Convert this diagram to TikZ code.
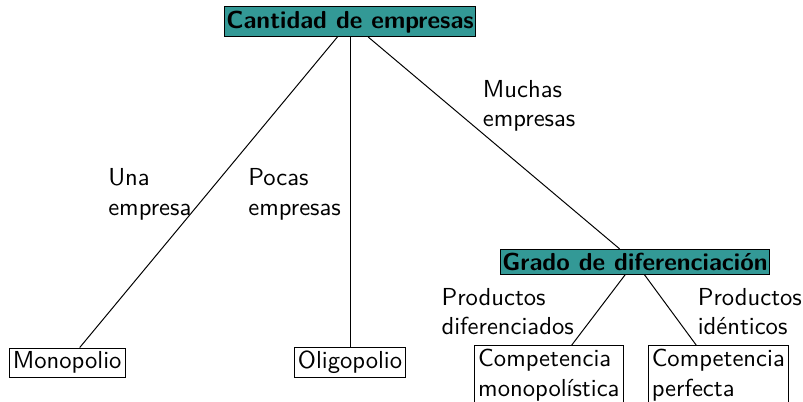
\documentclass[tikz,border=0pt]{standalone}
\usepackage{fontspec}
\usepackage{tikz}

\definecolor{tealbox}{RGB}{51,153,150}

\tikzset{
  header/.style={draw, fill=tealbox, inner xsep=0.7pt, inner ysep=1.5pt, font=\sffamily\bfseries},
  leaf/.style={draw, inner sep=1.5pt, font=\sffamily, align=left},
  branch/.style={anchor=north west, inner sep=0pt, font=\sffamily, align=left}
}

\begin{document}
\begin{tikzpicture}

  \useasboundingbox (0,0) rectangle (11.47,5.74);

  \node[header] (cantidad) at (5.00,5.43) {Cantidad de empresas};
  \node[header] (grado) at (9.07,2.00) {Grado de diferenciaci\'on};

  \node[leaf] (mono) at (0.96,0.56) {Monopolio};
  \node[leaf] (oligo) at (5.00,0.56) {Oligopolio};
  \node[leaf, anchor=north] (compmono) at (7.84,0.81) {Competencia\\monopol\'istica};
  \node[leaf, anchor=north] (compperf) at (10.26,0.81) {Competencia\\perfecta};

  \draw (cantidad) -- (mono);
  \draw (cantidad) -- (oligo);
  \draw (cantidad) -- (grado);
  \draw (grado) -- (compmono);
  \draw (grado) -- (compperf);

  \node[branch] (una) at (1.54,3.34) {Una\\empresa};
  \node[branch] (pocas) at (3.54,3.34) {Pocas\\empresas};
  \node[branch] (muchas) at (6.89,4.60) {Muchas\\empresas};
  \node[branch] (difer) at (6.30,1.63) {Productos\\diferenciados};
  \node[branch] (ident) at (9.96,1.63) {Productos\\id\'enticos};

\end{tikzpicture}
\end{document}
